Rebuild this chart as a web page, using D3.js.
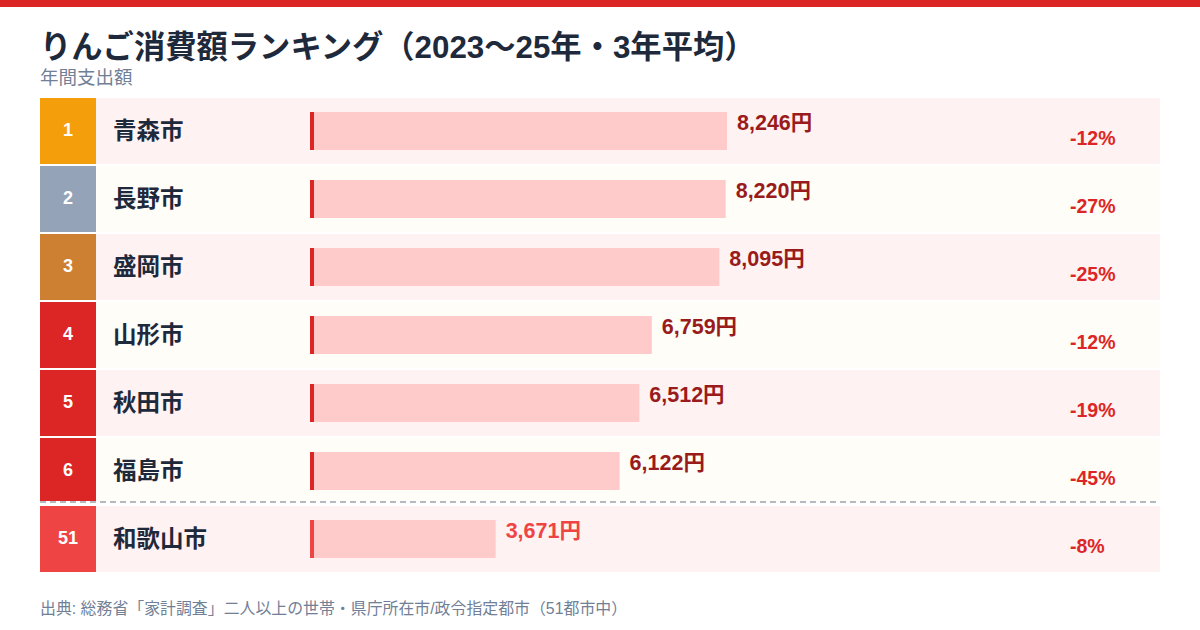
<!DOCTYPE html>
<html lang="ja">
<head>
<meta charset="utf-8">
<script src="https://cdn.jsdelivr.net/npm/d3@7"></script>
<style>
  body { margin: 0; background: #fff; }
  svg { display: block; font-family: "Liberation Sans", "Noto Sans CJK JP", sans-serif; }
</style>
</head>
<body>
<div id="chart"></div>
<script>
// data
const ranks = ['1', '2', '3', '4', '5', '6', '51'];
const cities = ['青森市', '長野市', '盛岡市', '山形市', '秋田市', '福島市', '和歌山市'];
const amounts = [8246, 8220, 8095, 6759, 6512, 6122, 3671];
const changes = ['-12%', '-27%', '-25%', '-12%', '-19%', '-45%', '-8%'];

const title = 'りんご消費額ランキング（2023〜25年・3年平均）';
const subtitle = '年間支出額';
const source = '出典: 総務省「家計調査」二人以上の世帯・県庁所在市/政令指定都市（51都市中）';

const width = 1200;
const height = 630;
const left = 40, right = 1160;
const rowTop = 98, rowStep = 68, rowH = 66;
const barX = 310;

const rankColor = ['#f59e0b', '#94a3b8', '#cd7f32', '#dc2626', '#dc2626', '#dc2626', '#ef4444'];

const rows = ranks.map((r, i) => ({
    rank: r,
    city: cities[i],
    amount: amounts[i],
    change: changes[i],
    i: i,
    last: i === ranks.length - 1
}));

const svg = d3.select('#chart')
    .append('svg')
    .attr('width', width)
    .attr('height', height);

// top strip
svg.append('rect')
    .attr('x', 0).attr('y', 0)
    .attr('width', width).attr('height', 7)
    .attr('fill', '#dc2626');

svg.append('text')
    .attr('x', left).attr('y', 58)
    .attr('font-size', 31.3).attr('font-weight', 700)
    .attr('fill', '#1e293b')
    .text(title);

svg.append('text')
    .attr('x', left).attr('y', 84)
    .attr('font-size', 18.5)
    .attr('fill', '#718096')
    .text(subtitle);

const y = d3.scaleBand()
    .domain(rows.map(d => d.i))
    .range([rowTop, rowTop + rowStep * rows.length])
    .paddingInner(0);

const x = d3.scaleLinear()
    .domain([0, d3.max(amounts)])
    .range([0, 417]);

const g = svg.selectAll('.row')
    .data(rows)
    .enter()
    .append('g')
    .attr('class', 'row')
    .attr('transform', d => `translate(0,${y(d.i)})`);

// row background
g.append('rect')
    .attr('x', left).attr('y', 0)
    .attr('width', right - left).attr('height', rowH)
    .attr('fill', d => d.i % 2 === 0 ? '#fef2f2' : '#fffdf7');

// rank box
g.append('rect')
    .attr('x', left).attr('y', 0)
    .attr('width', 56).attr('height', rowH)
    .attr('fill', (d, i) => rankColor[i]);

g.append('text')
    .attr('x', 68).attr('y', 38)
    .attr('text-anchor', 'middle')
    .attr('font-size', 18).attr('font-weight', 700)
    .attr('fill', '#fff')
    .text(d => d.rank);

g.append('text')
    .attr('x', 113).attr('y', 33)
    .attr('dominant-baseline', 'central')
    .attr('font-size', 23.5).attr('font-weight', 700)
    .attr('fill', '#1e293b')
    .text(d => d.city);

// bars
g.append('rect')
    .attr('x', barX).attr('y', 14)
    .attr('width', d => x(d.amount)).attr('height', 38)
    .attr('fill', '#fecaca');

g.append('rect')
    .attr('x', barX).attr('y', 14)
    .attr('width', 4).attr('height', 38)
    .attr('fill', d => d.last ? '#ef4444' : '#dc2626');

g.append('text')
    .attr('x', d => barX + x(d.amount) + 10).attr('y', 32)
    .attr('font-size', 21.5).attr('font-weight', 700)
    .attr('fill', d => d.last ? '#ef4444' : '#991b1b')
    .text(d => d3.format(',')(d.amount) + '円');

g.append('text')
    .attr('x', 1070).attr('y', 47)
    .attr('font-size', 19.5).attr('font-weight', 700)
    .attr('fill', '#dc2626')
    .text(d => d.change);

// separator before the last row
const sepY = y(rows.length - 1) - 4;
svg.append('rect')
    .attr('x', left).attr('y', sepY - 1)
    .attr('width', right - left).attr('height', 5)
    .attr('fill', '#fff');
svg.append('line')
    .attr('x1', left).attr('x2', right)
    .attr('y1', sepY).attr('y2', sepY)
    .attr('stroke', '#b4b9c2')
    .attr('stroke-width', 2)
    .attr('stroke-dasharray', '6,4');

svg.append('text')
    .attr('x', left).attr('y', 614)
    .attr('font-size', 15.9)
    .attr('fill', '#718096')
    .text(source);
</script>
</body>
</html>
